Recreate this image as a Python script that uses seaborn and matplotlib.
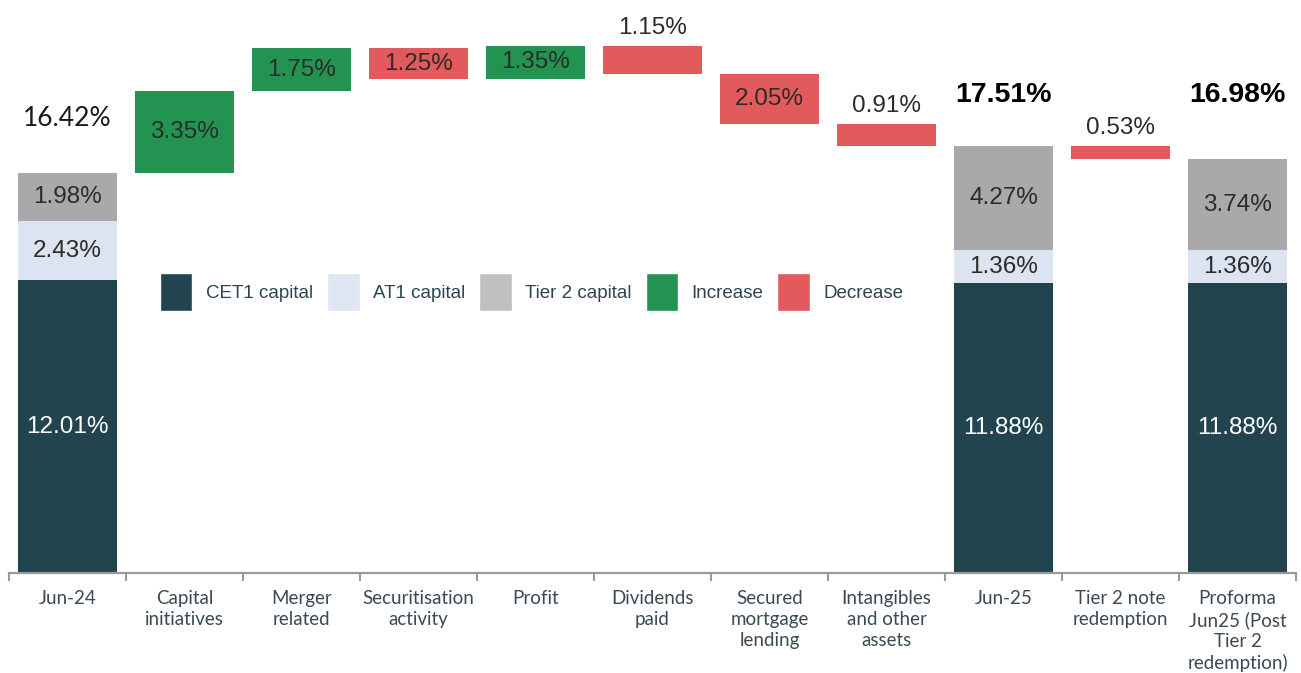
import numpy as np
import pandas as pd
import matplotlib
matplotlib.use("Agg")
import matplotlib.pyplot as plt
from matplotlib.patches import Patch
import seaborn as sns

# capital ratio walk, Jun-24 -> Jun-25 -> proforma
categories = ["Jun-24", "Capital\ninitiatives", "Merger\nrelated", "Securitisation\nactivity",
              "Profit", "Dividends\npaid", "Secured\nmortgage\nlending",
              "Intangibles\nand other\nassets", "Jun-25", "Tier 2 note\nredemption",
              "Proforma\nJun25 (Post\nTier 2\nredemption)"]
cet1 = [12.01, 0, 0, 0, 0, 0, 0, 0, 11.88, 0, 11.88]
at1 = [2.43, 0, 0, 0, 0, 0, 0, 0, 1.36, 0, 1.36]
tier2 = [1.98, 0, 0, 0, 0, 0, 0, 0, 4.27, 0, 3.74]
change = [0, 3.35, 1.75, -1.25, 1.35, -1.15, -2.05, -0.91, 0, -0.53, 0]
is_total = [True, False, False, False, False, False, False, False, True, False, True]

CET1_C = "#22444f"
AT1_C = "#dce3f1"
T2_C = "#a9a9ac"
UP_C = "#229350"
DOWN_C = "#e35a5c"
TXT_C = "#2b2b2b"
AXIS_C = "#9a9a9a"

df = pd.DataFrame({"category": categories, "cet1": cet1, "at1": at1,
                   "tier2": tier2, "change": change})
df["total"] = df["cet1"] + df["at1"] + df["tier2"]

# running level before each step
start = []
level = 0.0
for i in range(len(df)):
    if is_total[i]:
        level = df["total"][i]
    start.append(level)
    level = level + df["change"][i]
df["start"] = start
df["inc"] = df["change"].clip(lower=0)
df["dec"] = (-df["change"]).clip(lower=0)
df["dec_bottom"] = df["start"] + df["change"]

sns.set_theme(style="white")
plt.rcParams["font.family"] = ["Liberation Sans", "DejaVu Sans"]

fig = plt.figure(figsize=(13.01, 6.73), dpi=100)
ax = fig.add_axes([9 / 1301, 100 / 673, 1287 / 1301, 573 / 673])

w = 0.84
common = dict(x="category", width=w, saturation=1, errorbar=None, linewidth=0, ax=ax)
sns.barplot(data=df, y="cet1", color=CET1_C, **common)
sns.barplot(data=df, y="at1", color=AT1_C, bottom=df["cet1"].values, **common)
sns.barplot(data=df, y="tier2", color=T2_C, bottom=(df["cet1"] + df["at1"]).values, **common)
sns.barplot(data=df, y="inc", color=UP_C, bottom=df["start"].values, **common)
sns.barplot(data=df, y="dec", color=DOWN_C, bottom=df["dec_bottom"].values, **common)

lab_fs = 17.5
later_top = df.loc[[i for i in range(len(df)) if is_total[i] and i > 0], "total"].max() + 2.1
for i, row in df.iterrows():
    if is_total[i]:
        ax.text(i, row["cet1"] / 2, f"{row['cet1']:.2f}%", ha="center", va="center",
                color="white", fontsize=lab_fs)
        ax.text(i, row["cet1"] + row["at1"] / 2, f"{row['at1']:.2f}%", ha="center",
                va="center", color=TXT_C, fontsize=lab_fs)
        ax.text(i, row["cet1"] + row["at1"] + row["tier2"] / 2, f"{row['tier2']:.2f}%",
                ha="center", va="center", color=TXT_C, fontsize=lab_fs)
        if i == 0:
            ax.text(i, row["total"] + 2.2, f"{row['total']:.2f}%", ha="center", va="center",
                    color="#1a1a1a", fontsize=19, family=["Lato", "DejaVu Sans"])
        else:
            ax.text(i, later_top, f"{row['total']:.2f}%", ha="center", va="center",
                    color="black", fontsize=20.5, fontweight="bold")
    else:
        amt = abs(row["change"])
        lo = min(row["start"], row["start"] + row["change"])
        if amt >= 1.2:
            ax.text(i, lo + amt / 2, f"{amt:.2f}%", ha="center", va="center",
                    color=TXT_C, fontsize=lab_fs)
        else:
            ax.text(i, lo + amt + 0.3, f"{amt:.2f}%", ha="center", va="bottom",
                    color=TXT_C, fontsize=lab_fs)

ax.set_ylim(0, 23.5)
ax.set_xlim(-0.5, len(df) - 0.5)
ax.set_xlabel("")
ax.set_ylabel("")
ax.set_yticks([])
for s in ["top", "right", "left"]:
    ax.spines[s].set_visible(False)
ax.spines["bottom"].set_color(AXIS_C)
ax.spines["bottom"].set_linewidth(1.6)

ax.set_xticks(np.arange(-0.5, len(df), 1), minor=True)
ax.tick_params(axis="x", which="minor", bottom=True, length=6, width=1.5,
               color=AXIS_C, direction="out")
ax.tick_params(axis="x", which="major", bottom=False, length=0, pad=12,
               labelsize=13.5, labelcolor="#3a4a52")
for lbl in ax.get_xticklabels():
    lbl.set_fontfamily(["Lato", "DejaVu Sans"])
    lbl.set_linespacing(1.28)

handles = [Patch(facecolor=CET1_C), Patch(facecolor="#dfe5f2"), Patch(facecolor="#c0c0c2"),
           Patch(facecolor=UP_C), Patch(facecolor=DOWN_C)]
labels = ["CET1 capital", "AT1 capital", "Tier 2 capital", "Increase", "Decrease"]
leg = ax.legend(handles, labels, loc="center", bbox_to_anchor=(0.406, 0.49), ncol=5,
                frameon=False, fontsize=13.5, handlelength=1.75, handleheight=2.7,
                handletextpad=0.7, columnspacing=0.75)
for t in leg.get_texts():
    t.set_color("#2c4550")

fig.savefig("out.png", dpi=100)
